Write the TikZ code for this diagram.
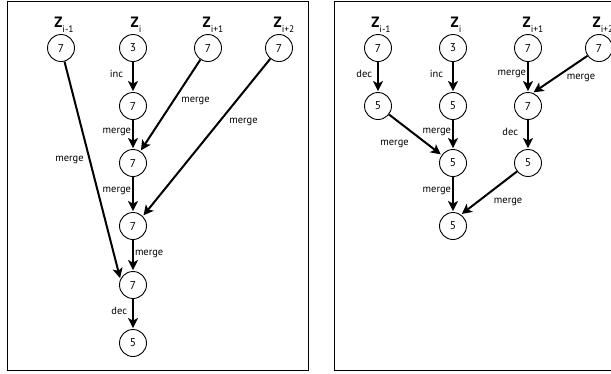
\documentclass[tikz,border=0pt]{standalone}
\usepackage{fontspec}
\setmainfont{PT Sans}
\usetikzlibrary{arrows.meta}
\begin{document}
\begin{tikzpicture}[x=1bp,y=-1bp,
  val/.style={circle,draw,line width=0.9bp,minimum size=27bp,inner sep=0pt,font=\fontsize{11.5}{12}\selectfont},
  zlab/.style={font=\fontsize{15}{16}\selectfont,inner sep=0pt,anchor=base},
  op/.style={font=\fontsize{10.5}{11}\selectfont,inner sep=1bp},
  flow/.style={line width=2bp,-{Stealth[length=10bp,width=10bp,inset=2.5bp]},shorten >=1bp}]
\clip (0,0) rectangle (611,373);
% panel frames
\draw[line width=0.9bp] (7.5,1.5) rectangle (308,370);
\draw[line width=0.9bp] (334,1.5) rectangle (640,370);
\newcommand{\zsub}[1]{\textbf{Z}\raisebox{-5bp}{\fontsize{9.5}{10}\selectfont #1}}

% ---------- left panel ----------
\node[val] (a1) at (61,48) {7};
\node[val] (a2) at (133,48) {3};
\node[val] (a3) at (208,48) {7};
\node[val] (a4) at (279,48) {7};
\node[zlab] (za1) at (64,27) {\zsub{i-1}};
\node[zlab] (za2) at (136,27) {\zsub{i}};
\node[zlab] (za3) at (213,27) {\zsub{i+1}};
\node[zlab] (za4) at (284,27) {\zsub{i+2}};

\node[val] (b1) at (133,106) {7};
\node[val] (b2) at (133,163) {7};
\node[val] (b3) at (133,226) {7};
\node[val] (b4) at (133,285) {7};
\node[val] (b5) at (133,343) {5};

\draw[flow] (a2) -- node[op,left,pos=0.4,xshift=-8bp] {inc} (b1);
\draw[flow] (b1) -- node[op,left,pos=0.4] {merge} (b2);
\draw[flow] (a3) -- node[op,right,pos=0.45,xshift=6bp] {merge} (b2.58);
\draw[flow] (a4) -- node[op,right,pos=0.4,xshift=8bp] {merge} (b3.45);
\draw[flow] (b2) -- node[op,left,pos=0.4] {merge} (b3);
\draw[flow] (b3) -- node[op,right,pos=0.45] {merge} (b4);
\draw[flow] (a1) -- node[op,left,pos=0.45,xshift=-4bp] {merge} (b4.155);
\draw[flow] (b4) -- node[op,left,pos=0.4,xshift=-4bp] {dec} (b5);

% ---------- right panel ----------
\node[val] (c1) at (378,48) {7};
\node[val] (c2) at (453,48) {3};
\node[val] (c3) at (528,48) {7};
\node[val] (c4) at (599,48) {7};
\node[zlab] (zc1) at (381,27) {\zsub{i-1}};
\node[zlab] (zc2) at (456,27) {\zsub{i}};
\node[zlab] (zc3) at (533,27) {\zsub{i+1}};
\node[zlab] (zc4) at (603,27) {\zsub{i+2}};

\node[val] (d1) at (378,106) {5};
\node[val] (d2) at (453,106) {5};
\node[val] (d3) at (528,106) {7};
\node[val] (e2) at (453,163) {5};
\node[val] (e3) at (528,163) {5};
\node[val] (f2) at (453,226) {5};

\draw[flow] (c1) -- node[op,left,pos=0.4,xshift=-4bp] {dec} (d1);
\draw[flow] (c2) -- node[op,left,pos=0.4,xshift=-8bp] {inc} (d2);
\draw[flow] (c3) -- node[op,left,pos=0.4] {merge} (d3);
\draw[flow] (c4) -- node[op,below right,pos=0.45,xshift=2bp] {merge} (d3.70);
\draw[flow] (d2) -- node[op,left,pos=0.4] {merge} (e2);
\draw[flow] (d1) -- node[op,below left,pos=0.45,xshift=-2bp,yshift=-5bp] {merge} (e2.145);
\draw[flow] (d3) -- node[op,left,pos=0.4,xshift=-8bp] {dec} (e3);
\draw[flow] (e2) -- node[op,left,pos=0.4] {merge} (f2);
\draw[flow] (e3) -- node[op,below right,pos=0.5,xshift=3bp,yshift=-3bp] {merge} (f2.55);
\end{tikzpicture}
\end{document}
